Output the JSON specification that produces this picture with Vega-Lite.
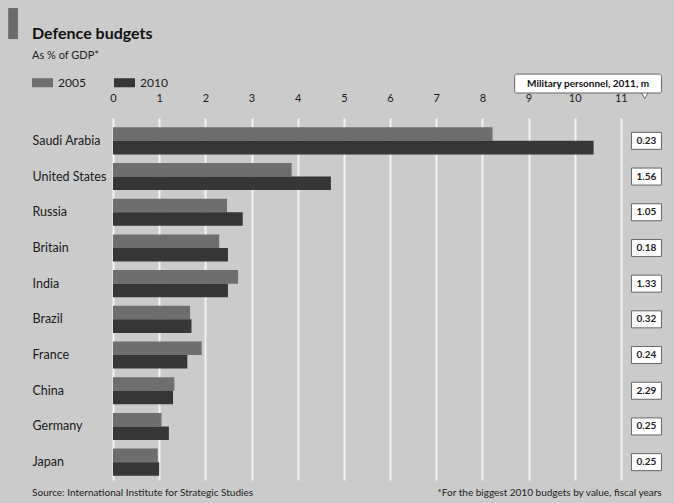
{
  "$schema": "https://vega.github.io/schema/vega-lite/v6.json",
  "width": 554,
  "height": 357,
  "autosize": {"type": "none"},
  "padding": {"left": 113, "top": 123, "right": 7, "bottom": 23},
  "background": "#cbcbcb",
  "config": {"view": {"stroke": null}, "font": "Lato"},
  "title": {
    "text": "Defence budgets",
    "subtitle": "As % of GDP*",
    "anchor": "start",
    "frame": "group",
    "dx": -81,
    "offset": -53,
    "font": "Lato",
    "fontSize": 16,
    "fontWeight": "bold",
    "color": "#111111",
    "subtitleFont": "Lato",
    "subtitleFontSize": 11,
    "subtitleColor": "#222222",
    "subtitlePadding": 8
  },
  "datasets": {
    "budgets": [
      {"country": "Saudi Arabia", "year": "2005", "gdp": 8.22},
      {"country": "Saudi Arabia", "year": "2010", "gdp": 10.41},
      {"country": "United States", "year": "2005", "gdp": 3.87},
      {"country": "United States", "year": "2010", "gdp": 4.72},
      {"country": "Russia", "year": "2005", "gdp": 2.47},
      {"country": "Russia", "year": "2010", "gdp": 2.81},
      {"country": "Britain", "year": "2005", "gdp": 2.3},
      {"country": "Britain", "year": "2010", "gdp": 2.49},
      {"country": "India", "year": "2005", "gdp": 2.71},
      {"country": "India", "year": "2010", "gdp": 2.49},
      {"country": "Brazil", "year": "2005", "gdp": 1.67},
      {"country": "Brazil", "year": "2010", "gdp": 1.7},
      {"country": "France", "year": "2005", "gdp": 1.92},
      {"country": "France", "year": "2010", "gdp": 1.61},
      {"country": "China", "year": "2005", "gdp": 1.33},
      {"country": "China", "year": "2010", "gdp": 1.3},
      {"country": "Germany", "year": "2005", "gdp": 1.05},
      {"country": "Germany", "year": "2010", "gdp": 1.21},
      {"country": "Japan", "year": "2005", "gdp": 0.97},
      {"country": "Japan", "year": "2010", "gdp": 1.0}
    ],
    "personnel": [
      {"country": "Saudi Arabia", "personnel": 0.23},
      {"country": "United States", "personnel": 1.56},
      {"country": "Russia", "personnel": 1.05},
      {"country": "Britain", "personnel": 0.18},
      {"country": "India", "personnel": 1.33},
      {"country": "Brazil", "personnel": 0.32},
      {"country": "France", "personnel": 0.24},
      {"country": "China", "personnel": 2.29},
      {"country": "Germany", "personnel": 0.25},
      {"country": "Japan", "personnel": 0.25}
    ],
    "notes": [
      {"header": "Military personnel, 2011, m", "source": "Source: International Institute for Strategic Studies", "footnote": "*For the biggest 2010 budgets by value, fiscal years"}
    ]
  },
  "layer": [
    {
      "layer": [
        {
          "data": {"name": "budgets"},
          "mark": {"type": "bar"},
          "encoding": {
            "y": {
              "field": "country", "type": "nominal",
              "sort": ["Saudi Arabia", "United States", "Russia", "Britain", "India", "Brazil", "France", "China", "Germany", "Japan"],
              "scale": {"paddingInner": 0.24, "paddingOuter": 0.12},
              "axis": {"title": null, "domain": false, "ticks": false, "labelAlign": "left", "labelPadding": 81, "labelFontSize": 12.5, "labelColor": "#1a1a1a", "labelFont": "Lato"}
            },
            "yOffset": {"field": "year", "type": "nominal", "scale": {"paddingInner": 0, "paddingOuter": 0}},
            "x": {
              "field": "gdp", "type": "quantitative",
              "scale": {"domain": [0, 12], "nice": false},
              "axis": {"orient": "top", "title": null, "values": [0,1,2,3,4,5,6,7,8,9,10,11], "labelFlush": false, "domain": false, "grid": true, "gridColor": "#f4f4f4", "gridWidth": 2, "gridOpacity": 1, "tickColor": "#f4f4f4", "tickWidth": 2, "tickSize": 5, "labelPadding": 15, "labelFontSize": 11, "labelColor": "#1a1a1a", "labelFont": "Lato"}
            },
            "color": {
              "field": "year", "type": "nominal",
              "scale": {"domain": ["2005", "2010"], "range": ["#6e6e6e", "#363636"]},
              "legend": {"title": null, "orient": "none", "direction": "horizontal", "legendX": -81, "legendY": -51, "symbolType": "M-1,-0.43H1V0.43H-1Z", "symbolSize": 441, "symbolStrokeWidth": 0, "labelFontSize": 12, "labelFont": "Lato", "labelColor": "#1a1a1a", "labelOffset": 5, "columnPadding": 28}
            }
          }
        },
        {
          "data": {"name": "personnel"},
          "mark": {"type": "bar", "height": 17, "fill": "#ffffff", "stroke": "#666666", "strokeWidth": 1},
          "encoding": {
            "y": {"field": "country", "type": "nominal", "sort": ["Saudi Arabia", "United States", "Russia", "Britain", "India", "Brazil", "France", "China", "Germany", "Japan"]},
            "x": {"datum": 11.23, "type": "quantitative"},
            "x2": {"datum": 11.88}
          }
        },
        {
          "data": {"name": "personnel"},
          "mark": {"type": "text", "fontSize": 10, "font": "Lato", "fontWeight": "bold", "color": "#222222"},
          "encoding": {
            "y": {"field": "country", "type": "nominal", "sort": ["Saudi Arabia", "United States", "Russia", "Britain", "India", "Brazil", "France", "China", "Germany", "Japan"]},
            "x": {"datum": 11.555, "type": "quantitative"},
            "text": {"field": "personnel", "type": "quantitative", "format": ".2f"}
          }
        }
      ]
    },
    {
      "data": {"name": "notes"},
      "layer": [
        {
          "mark": {"type": "rect", "fill": "#6a6a6a"},
          "encoding": {
            "x": {"datum": -2.27, "type": "quantitative"},
            "x2": {"datum": -2.06},
            "y": {"datum": 1.322, "type": "quantitative", "scale": {"domain": [0, 1], "nice": false, "zero": false}, "axis": null},
            "y2": {"datum": 1.235}
          }
        },
        {
          "mark": {"type": "point", "shape": "triangle-down", "size": 50, "filled": true, "fill": "#ffffff", "stroke": "#666666", "strokeWidth": 1, "opacity": 1},
          "encoding": {
            "x": {"datum": 11.52, "type": "quantitative"},
            "y": {"datum": 1.077, "type": "quantitative", "axis": null}
          }
        },
        {
          "mark": {"type": "rect", "fill": "#ffffff", "stroke": "#666666", "strokeWidth": 1, "cornerRadius": 2},
          "encoding": {
            "x": {"datum": 8.7, "type": "quantitative"},
            "x2": {"datum": 11.88},
            "y": {"datum": 1.137, "type": "quantitative", "axis": null},
            "y2": {"datum": 1.084}
          }
        },
        {
          "mark": {"type": "text", "fontSize": 10, "font": "Lato", "fontWeight": "bold", "color": "#111111"},
          "encoding": {
            "x": {"datum": 10.29, "type": "quantitative"},
            "y": {"datum": 1.1106, "type": "quantitative", "axis": null},
            "text": {"field": "header"}
          }
        },
        {
          "mark": {"type": "text", "fontSize": 10, "font": "Lato", "align": "left", "color": "#222222"},
          "encoding": {
            "x": {"datum": -1.753, "type": "quantitative"},
            "y": {"datum": -0.0364, "type": "quantitative", "axis": null},
            "text": {"field": "source"}
          }
        },
        {
          "mark": {"type": "text", "fontSize": 10, "font": "Lato", "align": "right", "color": "#222222"},
          "encoding": {
            "x": {"datum": 11.883, "type": "quantitative"},
            "y": {"datum": -0.0364, "type": "quantitative", "axis": null},
            "text": {"field": "footnote"}
          }
        }
      ]
    }
  ],
  "resolve": {"scale": {"y": "independent"}}
}
